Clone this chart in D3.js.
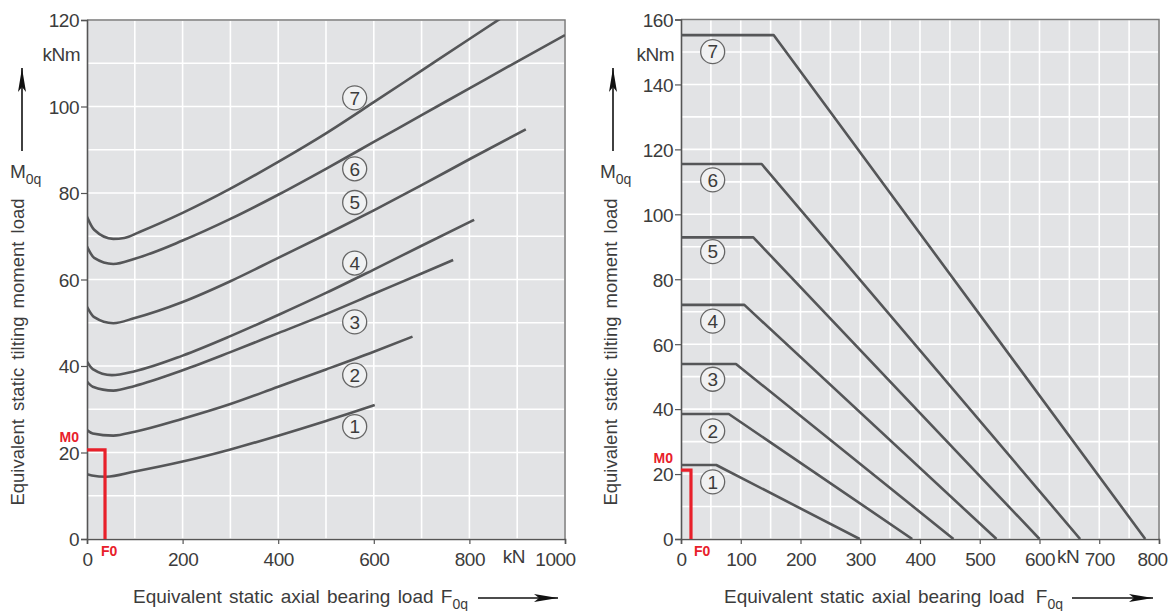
<!DOCTYPE html>
<html><head><meta charset="utf-8">
<script src="https://cdn.jsdelivr.net/npm/d3@7"></script>
<style>
html,body{margin:0;padding:0;background:#fff;}
svg{display:block;font-family:"Liberation Sans",Arial,Helvetica,sans-serif;}
</style></head>
<body><svg id="chart" width="1171" height="611"></svg>
<script>
// ---------- data (left chart: M0q vs F0q, curves 1..7) ----------
const curveIds = ["1","2","3","4","5","6","7"];
const left1 = [[0,15.0],[10,14.7],[40,14.4],[100,15.6],[200,17.9],[300,20.7],[400,23.9],[500,27.3],[602,31.0]];
const left2 = [[0,25.2],[12,24.4],[55,23.9],[100,24.8],[200,27.8],[300,31.2],[400,35.2],[500,39.2],[600,43.3],[681,46.8]];
const left3 = [[0,36.4],[12,35.2],[55,34.3],[100,35.4],[200,39.0],[300,43.2],[400,47.6],[500,52.0],[600,56.7],[700,61.4],[766,64.5]];
const left4 = [[0,41.0],[12,39.3],[52,37.9],[100,38.8],[200,42.4],[300,46.9],[400,51.8],[500,56.9],[600,62.3],[700,67.8],[810,73.8]];
const left5 = [[0,53.7],[15,51.3],[55,49.9],[100,51.1],[200,54.8],[300,59.6],[400,65.0],[500,70.4],[600,76.0],[700,81.8],[800,87.8],[918,94.7]];
const left6 = [[0,67.6],[15,65.0],[55,63.6],[100,64.8],[200,69.0],[300,74.0],[400,79.6],[500,85.6],[600,91.8],[700,98.0],[800,104.2],[900,110.4],[1000,116.5]];
const left7 = [[0,74.5],[15,71.5],[55,69.4],[78,69.6],[110,71.0],[200,75.4],[300,81.0],[400,87.2],[500,93.8],[600,101.0],[700,108.3],[800,115.6],[870,120.7]];
const leftLabelPos = [[560,26.0],[560,37.9],[560,50.2],[560,63.8],[560,77.8],[560,85.6],[560,102.0]];
const leftXTicks = [0,200,400,600,800,1000];
const leftYTicks = [0,20,40,60,80,100,120];
const leftM0 = 20.6, leftF0 = 37.7;

// ---------- data (right chart) ----------
const right1 = [[0,22.8],[59,22.8],[299,0]];
const right2 = [[0,38.5],[80,38.5],[387,0]];
const right3 = [[0,53.9],[92,53.9],[456,0]];
const right4 = [[0,72.1],[106,72.1],[528,0]];
const right5 = [[0,92.9],[121,92.9],[600,0]];
const right6 = [[0,115.5],[135,115.5],[668,0]];
const right7 = [[0,155.2],[155,155.2],[777,0]];
const rightLabelPos = [[53,17.6],[53,33.3],[53,49.2],[53,67.1],[53,88.5],[53,110.6],[53,150.1]];
const rightXTicks = [0,100,200,300,400,500,600,700,800];
const rightYTicks = [0,20,40,60,80,100,120,140,160];
const rightM0 = 21.2, rightF0 = 16.7;

const yTitle = "Equivalent static tilting moment load";
const xTitle = "Equivalent static axial bearing load";

// ---------- drawing ----------
const svg = d3.select("#chart");
const BG = "#e2e3e5", LINE = "#555658", TXT = "#3c3c3c", RED = "#e8202a";

const defs = svg.append("defs");
defs.append("marker").attr("id","ah").attr("viewBox","0 0 24 8").attr("refX",24).attr("refY",4)
  .attr("markerWidth",24).attr("markerHeight",8).attr("markerUnits","userSpaceOnUse").attr("orient","auto")
  .append("path").attr("d","M0,0 L24,4 L0,8 L5,4 Z").attr("fill","#111");

function panel(cfg){
  const g = svg.append("g");
  const x = d3.scaleLinear().domain(cfg.xDomain).range([cfg.x0, cfg.x1]);
  const y = d3.scaleLinear().domain(cfg.yDomain).range([cfg.y0, cfg.y1]);
  const clipId = "clip"+cfg.id;
  defs.append("clipPath").attr("id",clipId).append("rect")
    .attr("x",cfg.x0).attr("y",cfg.y1).attr("width",cfg.x1-cfg.x0).attr("height",cfg.y0-cfg.y1);
  g.append("rect").attr("x",cfg.x0).attr("y",cfg.y1).attr("width",cfg.x1-cfg.x0).attr("height",cfg.y0-cfg.y1).attr("fill",BG);
  // grid
  g.append("g").selectAll("line").data(d3.range(cfg.xDomain[0], cfg.xDomain[1]+0.001, cfg.xGrid)).join("line")
    .attr("x1",d=>x(d)).attr("x2",d=>x(d)).attr("y1",cfg.y0).attr("y2",cfg.y1)
    .attr("stroke","#fff").attr("stroke-width",1.6);
  g.append("g").selectAll("line").data(d3.range(cfg.yDomain[0], cfg.yDomain[1]+0.001, cfg.yGrid)).join("line")
    .attr("y1",d=>y(d)).attr("y2",d=>y(d)).attr("x1",cfg.x0).attr("x2",cfg.x1)
    .attr("stroke","#fff").attr("stroke-width",1.6);
  // frame top/right
  g.append("path").attr("d",`M${cfg.x0},${cfg.y1}H${cfg.x1}V${cfg.y0}`).attr("fill","none").attr("stroke","#7a7a7a").attr("stroke-width",1.5);
  // axes
  const xa = d3.axisBottom(x).tickValues(cfg.xTicks).tickSize(5).tickPadding(4).tickFormat(d3.format("d"));
  const ya = d3.axisLeft(y).tickValues(cfg.yTicks).tickSize(6).tickPadding(2).tickFormat(d3.format("d"));
  const gx = g.append("g").attr("transform",`translate(0,${cfg.y0})`).call(xa);
  const gy = g.append("g").attr("transform",`translate(${cfg.x0},0)`).call(ya);
  [gx,gy].forEach(a=>{
    a.select(".domain").attr("stroke","#555").attr("stroke-width",1.6);
    a.selectAll(".tick line").attr("stroke","#555").attr("stroke-width",1.2);
    a.selectAll("text").attr("font-size",19).attr("fill",TXT).attr("font-family","Liberation Sans, Arial, sans-serif").style("letter-spacing","-0.5px");
  });
  gx.selectAll("text").attr("dy","0.95em");
  gx.selectAll(".tick text").filter(d=>d===cfg.xDomain[1]).attr("dx",cfg.lastDx);
  gy.selectAll("text").attr("dy","0.36em");
  // kN label among x ticks
  g.append("text").attr("x",x(cfg.kNx)).attr("y",cfg.y0+24).attr("text-anchor","middle")
    .attr("font-size",19).attr("fill",TXT).style("letter-spacing","-0.5px").text("kN");
  // kNm
  g.append("text").attr("x",cfg.x0-7).attr("y",61).attr("text-anchor","end")
    .attr("font-size",19).attr("fill",TXT).style("letter-spacing","-0.5px").text("kNm");
  // curves
  const line = d3.line().x(d=>x(d[0])).y(d=>y(d[1])).curve(cfg.curve);
  g.append("g").attr("clip-path",`url(#${clipId})`).selectAll("path").data(cfg.series).join("path")
    .attr("d",line).attr("fill","none").attr("stroke",LINE).attr("stroke-width",2.6).attr("stroke-linejoin","round");
  // curve labels
  const lg = g.append("g").selectAll("g").data(cfg.labels).join("g")
    .attr("transform",(d)=>`translate(${x(d[0])},${y(d[1])})`);
  lg.append("circle").attr("r",12).attr("fill","#f0f1f2").attr("stroke","#666").attr("stroke-width",1.3);
  lg.append("text").attr("text-anchor","middle").attr("dy","0.36em").attr("font-size",19).attr("fill",TXT)
    .text((d,i)=>curveIds[i]);
  // red marker
  g.append("path").attr("d",`M${x(0)},${y(cfg.m0)}H${x(cfg.f0)}V${y(0)}`).attr("fill","none")
    .attr("stroke",RED).attr("stroke-width",3.2);
  g.append("text").attr("x",cfg.x0-8).attr("y",y(cfg.m0)-cfg.m0Off).attr("text-anchor","end").attr("font-size",14)
    .attr("font-weight","bold").attr("fill",RED).attr("font-family","Liberation Sans, Arial, sans-serif").text("M0");
  g.append("text").attr("x",x(cfg.f0)+ (cfg.id==="L"?-4:3)).attr("y",cfg.y0+17).attr("text-anchor","start").attr("font-size",14)
    .attr("font-weight","bold").attr("fill",RED).text("F0");
  // y title
  g.append("text").attr("transform",`translate(${cfg.yTitleX},${cfg.yTitleY}) rotate(-90)`).attr("text-anchor","middle")
    .attr("font-size",18.5).attr("fill",TXT).style("word-spacing","3px").text(yTitle);
  // M0q with arrow
  g.append("line").attr("x1",cfg.arrowX).attr("x2",cfg.arrowX).attr("y1",151).attr("y2",68)
    .attr("stroke","#111").attr("stroke-width",1.6).attr("marker-end","url(#ah)");
  const mt = g.append("text").attr("x",cfg.mX).attr("y",178).attr("font-size",19).attr("fill",TXT);
  mt.append("tspan").text("M");
  mt.append("tspan").attr("font-size",14).attr("dy",6).text("0q");
  // x title with arrow
  const xt = g.append("text").attr("x",cfg.xTitleX).attr("y",603).attr("font-size",19).attr("fill",TXT).style("word-spacing","2px");
  xt.append("tspan").text(xTitle+" ");
  xt.append("tspan").attr("dx",cfg.fGap).text("F");
  xt.append("tspan").attr("font-size",14).attr("dy",6).text("0q");
  g.append("line").attr("x1",cfg.xArrow[0]).attr("x2",cfg.xArrow[1]).attr("y1",598).attr("y2",598)
    .attr("stroke","#111").attr("stroke-width",1.6).attr("marker-end","url(#ah)");
}

panel({id:"L", xDomain:[0,1000], yDomain:[0,120], x0:87, x1:565, y0:539, y1:20, xGrid:100, yGrid:10,
  xTicks:leftXTicks, yTicks:leftYTicks, kNx:893, curve:d3.curveMonotoneX, lastDx:-10, m0Off:8,
  series:[left1,left2,left3,left4,left5,left6,left7], labels:leftLabelPos, m0:leftM0, f0:leftF0,
  yTitleX:24, yTitleY:352, arrowX:22, mX:10, xTitleX:133, fGap:0, xArrow:[478,558]});

panel({id:"R", xDomain:[0,800], yDomain:[0,160], x0:681, x1:1159, y0:539, y1:19.5, xGrid:50, yGrid:10,
  xTicks:rightXTicks, yTicks:rightYTicks, kNx:648, curve:d3.curveLinear, lastDx:-7, m0Off:7,
  series:[right1,right2,right3,right4,right5,right6,right7], labels:rightLabelPos, m0:rightM0, f0:rightF0,
  yTitleX:617, yTitleY:352, arrowX:613, mX:600, xTitleX:724, fGap:4, xArrow:[1072,1153]});
</script></body></html>
